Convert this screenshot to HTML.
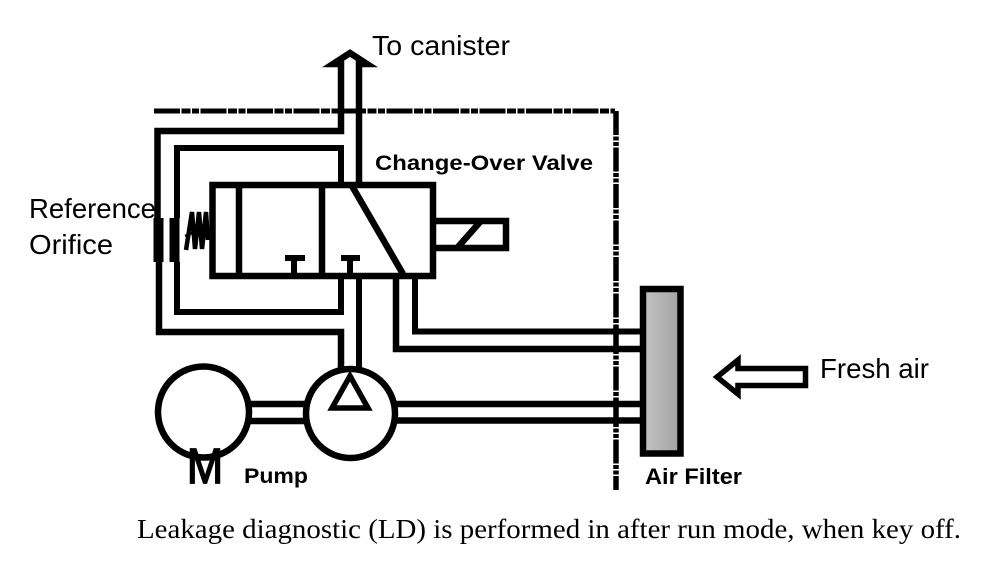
<!DOCTYPE html>
<html>
<head>
<meta charset="utf-8">
<style>
html,body{margin:0;padding:0;background:#fff;}
svg{display:block;}
</style>
</head>
<body>
<svg width="992" height="579" viewBox="0 0 992 579" xmlns="http://www.w3.org/2000/svg">
<defs>
<linearGradient id="g" x1="0" y1="0" x2="1" y2="0">
<stop offset="0" stop-color="#c4c4c4"/><stop offset="1" stop-color="#a2a2a2"/>
</linearGradient>
</defs>
<rect width="992" height="579" fill="#fff"/>

<!-- dash-dot boundary -->
<path d="M154 111H615" fill="none" stroke="#000" stroke-width="5" stroke-dasharray="26 1.500 9 1.500 7 1.500"/>
<path d="M616 111V490" fill="none" stroke="#000" stroke-width="5.500" stroke-dasharray="24 1.500 4 1.500 4 1.500"/>

<g fill="none" stroke="#000" stroke-linejoin="miter">
<!-- To canister arrow and pipes -->
<path d="M157.500 218V131H341V64H333L350 53L367 64H359V183" stroke-width="6.500"/>
<path d="M341 183V148H177V218" stroke-width="6"/>
<!-- valve -->
<rect x="212.500" y="185" width="220.500" height="91" stroke-width="6.500"/>
<path d="M239 185V276M322 185V276" stroke-width="6.500"/>
<path d="M352 186L403 274" stroke-width="6.500"/>
<path d="M294 276V257M285 258H305M350 276V257M341 258H360" stroke-width="6"/>
<!-- solenoid -->
<path d="M433 221H506V248H433" stroke-width="6.500"/>
<path d="M480 222L458 247" stroke-width="6.500"/>
<!-- orifice -->
<path d="M158.500 218V262M174.500 218V262" stroke-width="10"/>
<!-- spring -->
<path d="M186 250L192 212L195 249L199 212L202 249L206 212L208 240" stroke-width="4.500"/>
<path d="M185 236L209 226" stroke-width="2.500"/>
<!-- lower pipes -->
<path d="M177 262V312H341V279" stroke-width="6"/>
<path d="M159 262V332H341V368" stroke-width="6.500"/>
<path d="M359 279V368" stroke-width="6"/>
<path d="M396 279V349H641" stroke-width="6.500"/>
<path d="M415 279V331.500H641" stroke-width="6"/>
<!-- pump shaft / pipes -->
<path d="M249 404H305M249 421H305" stroke-width="6.500"/>
<path d="M396 404H641M396 420.500H641" stroke-width="6.500"/>
<!-- circles -->
<circle cx="203.500" cy="412" r="45.500" stroke-width="6.500"/>
<circle cx="350.500" cy="413.500" r="44.500" stroke-width="6.500"/>
<path d="M350 376L332 408H368Z" stroke-width="5.500"/>
<!-- filter -->
<rect x="643" y="289" width="37.500" height="164.500" fill="url(#g)" stroke-width="6.500"/>
<!-- fresh air arrow -->
<path d="M805.500 368.500V385.500H738V394L717 377L738 360V368.500Z" stroke-width="5.500" fill="#fff"/>
</g>

<g font-family="'Liberation Sans',sans-serif" fill="#000">
<text x="372" y="55" font-size="27.500" textLength="138" lengthAdjust="spacingAndGlyphs">To canister</text>
<text x="29" y="218" font-size="27.500" textLength="127" lengthAdjust="spacingAndGlyphs">Reference</text>
<text x="29" y="254" font-size="27.500" textLength="84" lengthAdjust="spacingAndGlyphs">Orifice</text>
<text x="820" y="378" font-size="27.500" textLength="109" lengthAdjust="spacingAndGlyphs">Fresh air</text>
<text x="375" y="170" font-size="21" font-weight="bold" textLength="218" lengthAdjust="spacingAndGlyphs">Change-Over Valve</text>
<text x="244" y="483" font-size="21" font-weight="bold" textLength="64" lengthAdjust="spacingAndGlyphs">Pump</text>
<text x="645" y="484" font-size="22" font-weight="bold" textLength="97" lengthAdjust="spacingAndGlyphs">Air Filter</text>
<text x="187" y="483" font-size="49" stroke="#000" stroke-width="1.800" textLength="36" lengthAdjust="spacingAndGlyphs">M</text>
</g>
<text x="137" y="538" font-family="'Liberation Serif',serif" font-size="27" fill="#000" textLength="824" lengthAdjust="spacingAndGlyphs">Leakage diagnostic (LD) is performed in after run mode, when key off.</text>
</svg>
</body>
</html>
